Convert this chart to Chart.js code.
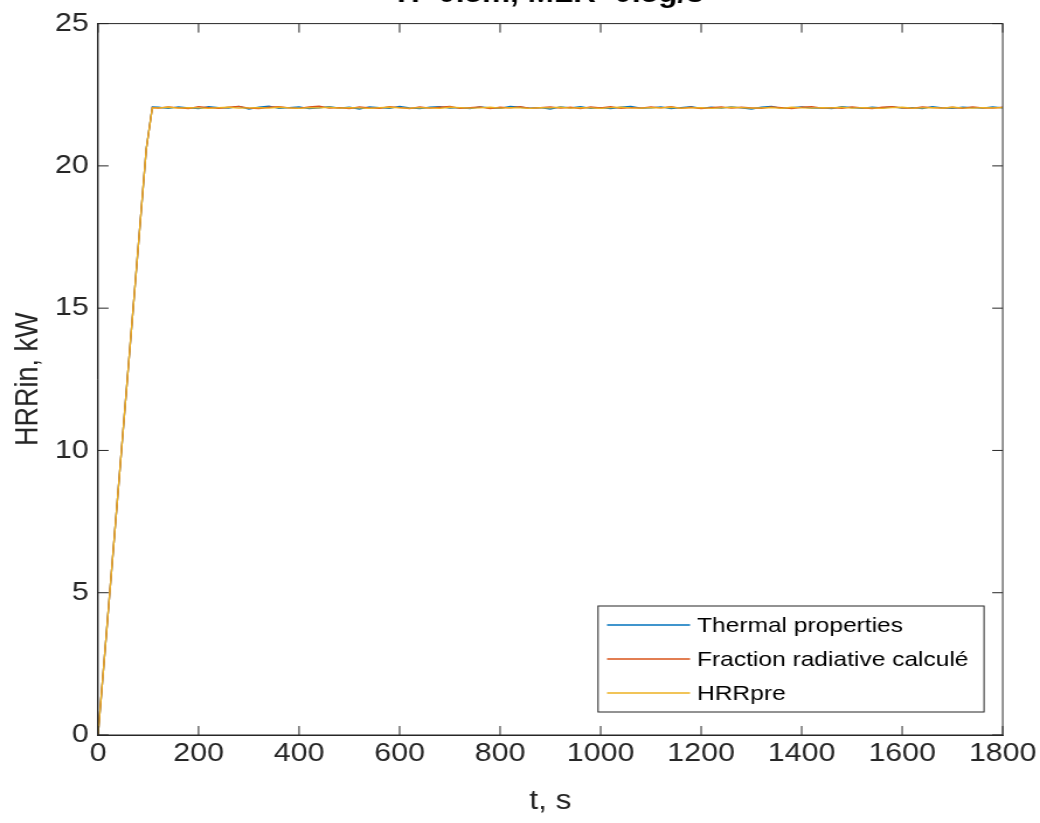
<!DOCTYPE html>
<html><head><meta charset="utf-8">
<style>html,body{margin:0;padding:0;background:#fff;overflow:hidden}</style>
<script src="https://cdn.jsdelivr.net/npm/chart.js@4/dist/chart.umd.min.js"></script>
</head><body>
<canvas id="c" width="890" height="823" style="display:block;width:1040px;height:823px"></canvas>
<script>
const titleText = 'H=0.5m, MLR=0.5g/s';
const xLabel = 't, s';
const yLabel = 'HRRin, kW';
const seriesNames = ['Thermal properties', 'Fraction radiative calculé', 'HRRpre'];
const xTicks = [0,200,400,600,800,1000,1200,1400,1600,1800];
const yTicks = [0,5,10,15,20,25];
const times = [0,96,108,
 120,140,160,180,200,220,240,260,280,300,
 320,340,360,380,400,420,440,460,480,500,
 520,540,560,580,600,620,640,660,680,700,
 720,740,760,780,800,820,840,860,880,900,
 920,940,960,980,1000,1020,1040,1060,1080,1100,
 1120,1140,1160,1180,1200,1220,1240,1260,1280,1300,
 1320,1340,1360,1380,1400,1420,1440,1460,1480,1500,
 1520,1540,1560,1580,1600,1620,1640,1660,1680,1700,
 1720,1740,1760,1780,1800];
const thermal = [0,20.6,22.07,
 22.06,22.02,22.07,22.04,22.01,22.08,22.05,22.03,22.09,22.00,
 22.06,22.10,22.02,22.05,22.07,22.01,22.04,22.08,22.03,22.06,
 22.00,22.07,22.05,22.02,22.09,22.04,22.01,22.06,22.08,22.03,
 22.05,22.01,22.07,22.04,22.02,22.09,22.06,22.03,22.05,22.00,
 22.07,22.04,22.08,22.02,22.05,22.01,22.06,22.09,22.03,22.04,
 22.07,22.01,22.05,22.08,22.02,22.06,22.03,22.07,22.04,22.00,
 22.06,22.09,22.02,22.05,22.07,22.03,22.04,22.01,22.08,22.05,
 22.02,22.06,22.04,22.07,22.03,22.05,22.01,22.08,22.04,22.02,
 22.06,22.05,22.03,22.07,22.04];
const fraction = [0,20.6,22.05,
 22.03,22.07,22.04,22.01,22.08,22.05,22.02,22.06,22.09,22.03,
 22.01,22.06,22.08,22.04,22.02,22.07,22.10,22.03,22.05,22.01,
 22.07,22.04,22.02,22.08,22.05,22.01,22.07,22.03,22.06,22.09,
 22.02,22.05,22.07,22.01,22.06,22.04,22.08,22.02,22.05,22.07,
 22.03,22.06,22.01,22.07,22.04,22.08,22.02,22.05,22.03,22.07,
 22.04,22.08,22.02,22.06,22.01,22.05,22.07,22.03,22.06,22.04,
 22.02,22.07,22.05,22.01,22.06,22.08,22.03,22.05,22.02,22.07,
 22.04,22.01,22.06,22.08,22.04,22.02,22.07,22.05,22.03,22.06,
 22.02,22.07,22.04,22.03,22.06];
const hrrpre = [0,20.6,22.04,
 22.04,22.06,22.03,22.05,22.04,22.02,22.05,22.06,22.03,22.04,
 22.05,22.03,22.06,22.04,22.02,22.05,22.04,22.06,22.03,22.05,
 22.04,22.02,22.05,22.06,22.04,22.03,22.05,22.04,22.02,22.06,
 22.05,22.03,22.04,22.06,22.03,22.05,22.04,22.02,22.05,22.04,
 22.06,22.03,22.05,22.04,22.02,22.05,22.06,22.04,22.03,22.05,
 22.04,22.06,22.03,22.04,22.05,22.02,22.04,22.06,22.05,22.03,
 22.04,22.05,22.02,22.06,22.04,22.03,22.05,22.04,22.06,22.03,
 22.05,22.04,22.02,22.05,22.06,22.03,22.04,22.05,22.03,22.06,
 22.04,22.03,22.05,22.04,22.05];
const colors = ['#0072BD', '#D95319', '#EDB120'];

const FONT = '"Liberation Sans", Arial, Helvetica, sans-serif';
const AX = '#262626';
const toPts = arr => times.map((t, i) => ({x: t, y: arr[i]}));

const decor = {
  id: 'decor',
  afterDatasetsDraw(chart) {
    const ctx = chart.ctx, a = chart.chartArea;
    const xs = chart.scales.x, ys = chart.scales.y;
    ctx.save();
    ctx.strokeStyle = AX; ctx.lineWidth = 1;
    ctx.strokeRect(a.left, a.top, a.right - a.left, a.bottom - a.top);
    const TL = 9;
    ctx.beginPath();
    xTicks.forEach(v => {
      const p = xs.getPixelForValue(v);
      ctx.moveTo(p, a.bottom); ctx.lineTo(p, a.bottom - TL);
      ctx.moveTo(p, a.top); ctx.lineTo(p, a.top + TL);
    });
    yTicks.forEach(v => {
      const p = ys.getPixelForValue(v);
      ctx.moveTo(a.left, p); ctx.lineTo(a.left + TL, p);
      ctx.moveTo(a.right, p); ctx.lineTo(a.right - TL, p);
    });
    ctx.stroke();
    // legend
    const bx = 511.8, by = 606, bw = 330.3, bh = 106;
    ctx.fillStyle = '#fff';
    ctx.fillRect(bx, by, bw, bh);
    ctx.strokeRect(bx, by, bw, bh);
    ctx.font = '21px ' + FONT;
    ctx.textBaseline = 'middle';
    ctx.textAlign = 'left';
    chart.data.datasets.forEach((ds, i) => {
      const yy = by + 19 + i * 34;
      ctx.strokeStyle = ds.borderColor; ctx.lineWidth = 1.3;
      ctx.beginPath(); ctx.moveTo(519.5, yy); ctx.lineTo(590.5, yy); ctx.stroke();
      ctx.fillStyle = '#000';
      ctx.fillText(ds.label, 596.5, yy + 1);
    });
    // title (partially above canvas)
    ctx.font = 'bold 27px ' + FONT;
    ctx.textAlign = 'center';
    ctx.textBaseline = 'alphabetic';
    ctx.fillStyle = '#000';
    ctx.fillText(titleText, (a.left + a.right) / 2, 2);
    ctx.restore();
  }
};

new Chart(document.getElementById('c'), {
  type: 'line',
  data: {
    datasets: [
      {label: seriesNames[0], data: toPts(thermal), borderColor: colors[0], order: 3},
      {label: seriesNames[1], data: toPts(fraction), borderColor: colors[1], order: 2},
      {label: seriesNames[2], data: toPts(hrrpre), borderColor: colors[2], order: 1}
    ]
  },
  options: {
    responsive: false,
    animation: false,
    devicePixelRatio: 1,
    layout: {padding: {top: 18, right: 28.2, left: 0, bottom: 0}},
    elements: {point: {radius: 0}, line: {borderWidth: 1.3, tension: 0}},
    plugins: {legend: {display: false}, title: {display: false}, tooltip: {enabled: false}},
    scales: {
      x: {
        type: 'linear', min: 0, max: 1800,
        afterFit: s => { s.height = 88; },
        afterBuildTicks: s => { s.ticks = xTicks.map(v => ({value: v})); },
        grid: {display: false, drawTicks: false},
        border: {display: true, color: AX},
        ticks: {color: AX, font: {family: FONT, size: 26}, padding: 3, maxRotation: 0, autoSkip: false, callback: v => String(v)},
        title: {display: true, text: xLabel, color: AX, font: {family: FONT, size: 27}, padding: {top: 0, bottom: 5}}
      },
      y: {
        type: 'linear', min: 0, max: 25,
        afterFit: s => { s.width = 83.9; },
        afterBuildTicks: s => { s.ticks = yTicks.map(v => ({value: v})); },
        grid: {display: false, drawTicks: false},
        border: {display: true, color: AX},
        ticks: {color: AX, font: {family: FONT, size: 26}, padding: 8, autoSkip: false, callback: v => String(v)},
        title: {display: true, text: yLabel, color: AX, font: {family: FONT, size: 27}, padding: {top: 8, bottom: 0}}
      }
    }
  },
  plugins: [decor]
});
</script>
</body></html>
